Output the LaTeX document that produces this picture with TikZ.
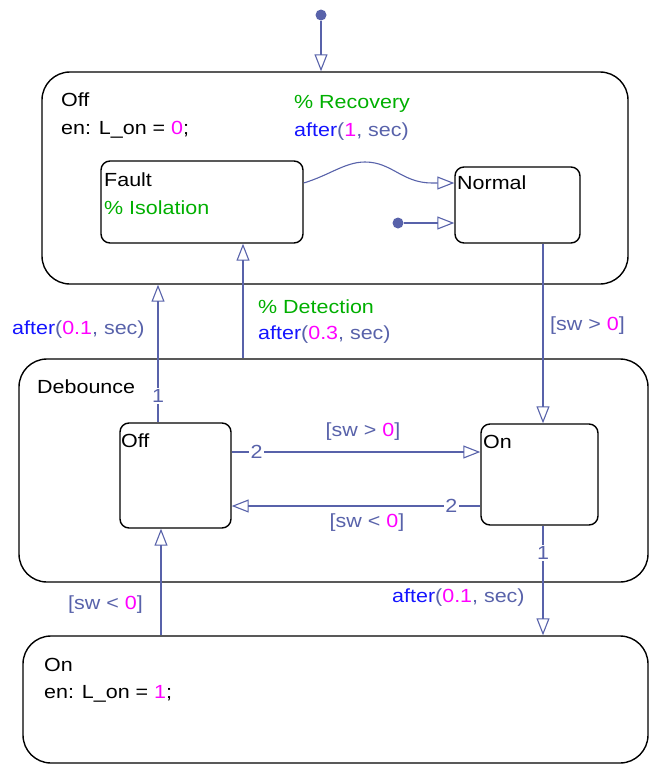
\documentclass[tikz,border=0pt]{standalone}
\usepackage{fontspec}
\setmainfont[FakeStretch=1.13]{Liberation Sans}
\usetikzlibrary{calc}
\usetikzlibrary{arrows.meta}
\usepackage{xcolor}
\definecolor{trc}{RGB}{88,98,170}
\definecolor{kwc}{RGB}{20,20,255}
\definecolor{nmc}{RGB}{255,0,255}
\definecolor{cmc}{RGB}{0,175,0}
\newcommand{\kw}[1]{\textcolor{kwc}{#1}}
\newcommand{\nmb}[1]{\textcolor{nmc}{#1}}
\newcommand{\tg}[1]{\textcolor{trc}{#1}}
\newcommand{\aft}[1]{\kw{after}\tg{(}\nmb{#1}\tg{, sec)}}
\tikzset{
  superst/.style={draw,line width=1.4pt,rounded corners=28pt,inner sep=0pt},
  subst/.style={draw,line width=1.4pt,rounded corners=9pt,inner sep=0pt},
  trans/.style={trc,line width=1.1pt,-{Triangle[open,length=17pt,width=13pt,line width=1.1pt]}},
  dot/.style={circle,fill=trc,inner sep=0pt,minimum size=11pt},
  txt/.style={anchor=west,inner sep=0pt,font=\fontsize{19}{23}\selectfont},
  lbl/.style={fill=white,inner sep=1.5pt,text=trc,font=\fontsize{19}{23}\selectfont}
}
\begin{document}
\begin{tikzpicture}[x=1pt,y=-1pt]
\useasboundingbox (0,0) rectangle (650,766);
% states
\node[superst,minimum width=586pt,minimum height=212pt] (OffSt) at (335,178) {};
\node[subst,minimum width=202pt,minimum height=82pt] (Fault) at (202,202) {};
\node[subst,minimum width=125pt,minimum height=76pt] (Normal) at (517.5,205) {};
\node[superst,minimum width=629pt,minimum height=223pt] (Deb) at (333.5,470.5) {};
\node[subst,minimum width=111pt,minimum height=105pt] (DOff) at (175.5,475.5) {};
\node[subst,minimum width=117pt,minimum height=101pt] (DOn) at (539.5,474.5) {};
\node[superst,minimum width=625pt,minimum height=127pt] (OnSt) at (335.5,699.5) {};
% state texts
\node[txt] (t1) at (61,100) {Off};
\node[txt] (t2) at (61,130) {en: L\_on = \nmb{0};};
\node[txt] (t3) at (104,180) {Fault};
\node[txt] (t4) at (104,208) {\textcolor{cmc}{\% Isolation}};
\node[txt] (t5) at (457,183) {Normal};
\node[txt] (t6) at (37,387) {Debounce};
\node[txt] (t7) at (121,441) {Off};
\node[txt] (t8) at (483,442) {On};
\node[txt] (t9) at (44,665) {On};
\node[txt] (t10) at (44,694) {en: L\_on = \nmb{1};};
% default transitions
\node[dot] (init) at (321,15) {};
\draw[trans] (init) -- (init |- OffSt.north);
\node[dot] (ninit) at (398,223) {};
\draw[trans] (ninit) -- (ninit -| Normal.west);
% transitions
\coordinate (rc) at ([yshift=19pt]Fault.east);
\draw[trans] (rc) .. controls (330,175) and (345,162) .. (365,162)
  .. controls (392,162) and (402,183) .. (432,183) -- ([yshift=22pt]Normal.west);
\node[txt] (r1) at (294,104) {\textcolor{cmc}{\% Recovery}};
\node[txt] (r2) at (294,132) {\aft{1}};
\coordinate (dt) at ([xshift=41pt]Fault.south);
\draw[trans] (dt |- Deb.north) -- (dt);
\node[txt] (d1) at (258,307) {\textcolor{cmc}{\% Detection}};
\node[txt] (d2) at (258,335) {\aft{0.3}};
\coordinate (of) at ([xshift=-17.5pt]DOff.north);
\draw[trans] (of) -- node[lbl,pos=0.19] (n1) {1} (of |- OffSt.south);
\node[txt] (a1) at (12,330) {\aft{0.1}};
\coordinate (nm) at ([xshift=25.5pt]Normal.south);
\draw[trans] (nm) -- (nm |- DOn.north);
\node[txt] (g1) at (550,326) {\tg{[sw > }\nmb{0}\tg{]}};
\coordinate (up) at ([yshift=23.5pt]DOff.east);
\draw[trans] (up) -- node[lbl,pos=0.1] (n2) {2} (up -| DOn.west);
\node[txt,anchor=center] (g2) at (363,432) {\tg{[sw > }\nmb{0}\tg{]}};
\coordinate (dn) at ([yshift=-31.5pt]DOn.west);
\draw[trans] (dn) -- node[lbl,pos=0.116] (n3) {2} (dn -| DOff.east);
\node[txt,anchor=center] (g3) at (367,523) {\tg{[sw < }\nmb{0}\tg{]}};
\coordinate (on) at ([xshift=3.5pt]DOn.south);
\draw[trans] (on) -- node[lbl,pos=0.25] (n4) {1} (on |- OnSt.north);
\node[txt] (a2) at (392,598) {\aft{0.1}};
\coordinate (bo) at ([xshift=-14.5pt]DOff.south);
\draw[trans] (bo |- OnSt.north) -- (bo);
\node[txt] (g4) at (68,605) {\tg{[sw < }\nmb{0}\tg{]}};
\end{tikzpicture}
\end{document}
